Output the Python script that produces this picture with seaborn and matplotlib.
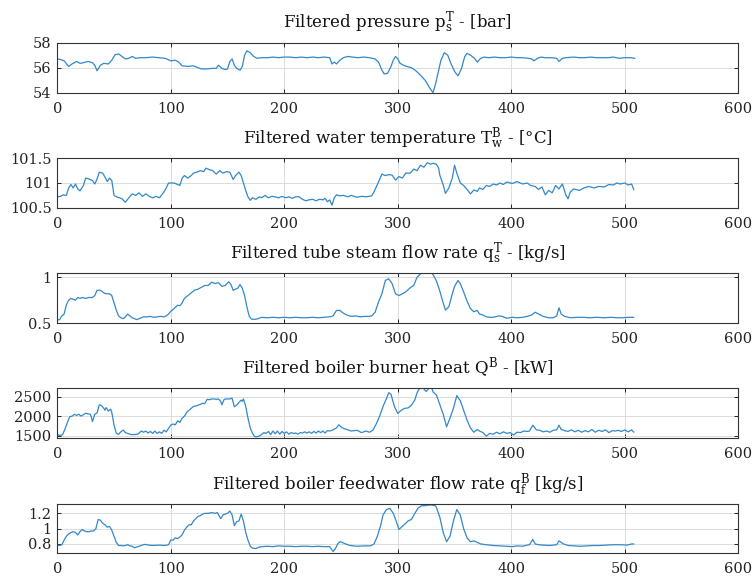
import matplotlib
matplotlib.use("Agg")
import matplotlib.pyplot as plt
from matplotlib.ticker import FuncFormatter
import pandas as pd
import seaborn as sns

# ---- filtered plant signals (sample index, value) ----
pressure_t = [0, 3, 6, 10, 13, 17, 20, 23, 27, 31,
              33, 35, 38, 41, 45, 48, 51, 54, 57, 60,
              63, 66, 69, 73, 78, 84, 90, 95, 100, 104,
              107, 110, 115, 120, 124, 127, 132, 137, 140, 142,
              145, 148, 150, 152, 154, 156, 158, 161, 163, 165,
              167, 170, 173, 176, 180, 185, 190, 195, 200, 205,
              210, 215, 220, 225, 230, 235, 240, 242, 244, 246,
              249, 252, 256, 260, 265, 270, 275, 280, 283, 286,
              288, 291, 294, 296, 298, 300, 302, 305, 308, 312,
              316, 320, 324, 328, 331, 333, 335, 338, 341, 344,
              347, 350, 353, 356, 359, 361, 364, 367, 370, 373,
              376, 380, 385, 390, 395, 400, 405, 410, 415, 418,
              420, 423, 426, 430, 435, 440, 442, 445, 448, 455,
              460, 465, 470, 475, 480, 485, 490, 495, 500, 505,
              509]
pressure_v = [56.7, 56.65, 56.55, 56.1, 56.3, 56.5, 56.35, 56.4, 56.5, 56.4,
              56.2, 55.75, 56.2, 56.35, 56.3, 56.6, 57.05, 57.1, 56.9, 56.7,
              56.75, 56.9, 56.75, 56.8, 56.8, 56.85, 56.8, 56.75, 56.55, 56.6,
              56.45, 56.15, 56.1, 56.15, 56.0, 55.9, 55.9, 55.95, 55.95, 56.2,
              55.95, 55.85, 55.9, 56.5, 56.7, 56.2, 55.95, 55.8, 56.1, 57.0,
              57.35, 57.2, 56.9, 56.75, 56.8, 56.8, 56.85, 56.8, 56.85, 56.85,
              56.8, 56.85, 56.8, 56.85, 56.8, 56.85, 56.8, 56.3, 56.45, 56.3,
              56.6, 56.8, 56.9, 56.85, 56.8, 56.85, 56.8, 56.7, 56.45, 55.8,
              55.5, 55.55, 56.1, 56.6, 56.9, 56.7, 56.35, 56.2, 56.1, 56.0,
              55.75, 55.4, 55.0, 54.4, 54.0, 54.6, 55.4, 56.6, 57.2, 57.0,
              56.3, 55.7, 55.35, 55.9, 56.9, 57.15, 57.0, 56.8, 56.45, 56.75,
              56.85, 56.8, 56.85, 56.8, 56.8, 56.85, 56.8, 56.8, 56.75, 56.7,
              56.55, 56.75, 56.85, 56.8, 56.8, 56.75, 56.5, 56.75, 56.8, 56.85,
              56.8, 56.8, 56.85, 56.8, 56.8, 56.8, 56.85, 56.75, 56.8, 56.8,
              56.75]

temp_t = [0, 3, 5, 8, 10, 12, 14, 16, 18, 20,
          23, 25, 28, 31, 33, 35, 37, 40, 42, 44,
          46, 48, 50, 52, 55, 57, 60, 63, 66, 69,
          72, 75, 78, 81, 84, 87, 90, 92, 94, 96,
          98, 100, 103, 106, 108, 110, 112, 115, 118, 120,
          123, 126, 129, 131, 134, 137, 140, 143, 146, 149,
          152, 155, 157, 160, 162, 164, 166, 168, 170, 172,
          175, 178, 180, 183, 186, 189, 192, 195, 198, 201,
          204, 207, 210, 213, 216, 219, 222, 225, 228, 231,
          234, 236, 238, 240, 242, 244, 246, 249, 252, 256,
          259, 264, 268, 272, 277, 279, 283, 286, 289, 292,
          295, 298, 301, 304, 307, 311, 314, 317, 320, 323,
          326, 329, 331, 334, 336, 337, 340, 342, 345, 348,
          350, 352, 355, 358, 361, 364, 367, 370, 372, 375,
          378, 381, 384, 387, 390, 393, 396, 401, 405, 410,
          414, 417, 421, 424, 427, 430, 433, 436, 439, 442,
          445, 448, 450, 452, 455, 460, 464, 468, 473, 477,
          482, 486, 490, 493, 496, 500, 503, 506, 508]
temp_v = [100.72, 100.73, 100.76, 100.75, 100.9, 100.97, 100.9, 100.98, 100.88, 100.84,
          100.95, 101.1, 101.08, 101.05, 100.98, 101.08, 101.22, 101.2, 101.12, 101.03,
          101.1, 101.05, 100.75, 100.72, 100.7, 100.68, 100.61, 100.7, 100.78, 100.75,
          100.8, 100.73, 100.78, 100.73, 100.7, 100.73, 100.7, 100.76, 100.82, 100.9,
          101.0, 101.0, 101.0, 100.97, 100.95, 101.1, 101.15, 101.1, 101.15, 101.2,
          101.22, 101.25, 101.23, 101.3, 101.27, 101.25, 101.18, 101.25, 101.2, 101.23,
          101.22, 101.07, 101.15, 101.22, 101.15, 101.0, 100.85, 100.72, 100.65, 100.7,
          100.67, 100.72, 100.7, 100.75, 100.7, 100.73, 100.72, 100.7, 100.73, 100.7,
          100.72, 100.69, 100.72, 100.72, 100.67, 100.64, 100.66, 100.67, 100.64, 100.67,
          100.66, 100.69, 100.62, 100.66, 100.55, 100.7, 100.76, 100.74, 100.75, 100.72,
          100.75, 100.71, 100.73, 100.72, 100.74, 100.82, 101.02, 101.18, 101.15, 101.17,
          101.16, 101.06, 101.13, 101.1, 101.2, 101.2, 101.28, 101.25, 101.36, 101.32,
          101.41, 101.38, 101.4, 101.38, 101.3, 101.16, 100.96, 100.79, 100.9, 101.1,
          101.36, 101.2, 101.0, 100.95, 100.87, 100.78, 100.86, 100.83, 100.9, 100.87,
          100.95, 100.93, 100.98, 100.96, 101.0, 100.97, 101.02, 100.99, 101.03, 100.98,
          101.0, 100.95, 100.93, 100.87, 100.92, 100.76, 100.85, 100.8, 100.95, 100.88,
          100.98, 100.76, 100.68, 100.82, 100.88, 100.85, 100.9, 100.93, 100.9, 100.93,
          100.92, 100.97, 100.96, 101.0, 100.98, 101.0, 100.96, 100.98, 100.86]

steam_t = [0, 2, 4, 6, 8, 10, 12, 14, 16, 18,
           20, 22, 25, 28, 31, 33, 35, 37, 39, 41,
           43, 46, 48, 50, 52, 54, 56, 58, 60, 62,
           64, 66, 68, 70, 73, 76, 79, 82, 85, 88,
           91, 94, 96, 98, 100, 103, 106, 108, 110, 112,
           115, 118, 121, 124, 127, 130, 133, 136, 139, 142,
           145, 148, 151, 153, 155, 157, 159, 161, 163, 165,
           167, 169, 171, 174, 177, 180, 185, 190, 195, 200,
           205, 210, 215, 220, 225, 230, 235, 240, 243, 246,
           249, 252, 255, 259, 263, 267, 271, 274, 277, 280,
           283, 286, 289, 292, 295, 298, 301, 304, 307, 311,
           314, 317, 320, 323, 326, 329, 331, 334, 337, 340,
           342, 345, 348, 350, 353, 355, 358, 361, 364, 367,
           370, 372, 375, 378, 381, 384, 389, 392, 396, 401,
           405, 410, 414, 418, 421, 424, 428, 433, 437, 440,
           442, 444, 447, 452, 458, 463, 469, 475, 482, 488,
           493, 499, 503, 508]
steam_v = [0.536, 0.54, 0.58, 0.6, 0.7, 0.75, 0.77, 0.76, 0.75, 0.78,
           0.77, 0.78, 0.77, 0.78, 0.78, 0.8, 0.857, 0.86, 0.85, 0.83,
           0.82, 0.82, 0.8, 0.72, 0.64, 0.58, 0.56, 0.55, 0.57, 0.6,
           0.58, 0.56, 0.55, 0.54, 0.555, 0.57, 0.57, 0.575, 0.565, 0.57,
           0.575, 0.57, 0.58, 0.6, 0.63, 0.66, 0.696, 0.69, 0.72, 0.77,
           0.8, 0.83, 0.86, 0.87, 0.89, 0.91, 0.91, 0.946, 0.93, 0.94,
           0.9, 0.91, 0.95, 0.92, 0.857, 0.87, 0.88, 0.92, 0.88, 0.8,
           0.68, 0.58, 0.545, 0.543, 0.55, 0.565, 0.56, 0.565, 0.56, 0.565,
           0.56, 0.565, 0.56, 0.56, 0.565, 0.56, 0.565, 0.57, 0.58, 0.64,
           0.64, 0.61, 0.59, 0.575, 0.58, 0.57, 0.575, 0.575, 0.58, 0.62,
           0.73, 0.82, 0.964, 0.982, 0.93, 0.82, 0.8, 0.82, 0.84, 0.886,
           0.91, 1.0, 1.036, 1.05, 1.05, 1.05, 1.03, 0.96, 0.85, 0.72,
           0.643, 0.68, 0.82, 0.9, 0.964, 0.93, 0.84, 0.74, 0.66, 0.625,
           0.64, 0.6, 0.59, 0.57, 0.565, 0.565, 0.58, 0.575, 0.555, 0.565,
           0.56, 0.565, 0.575, 0.59, 0.62, 0.6, 0.575, 0.56, 0.56, 0.58,
           0.668, 0.6, 0.575, 0.56, 0.565, 0.565, 0.56, 0.565, 0.56, 0.565,
           0.56, 0.56, 0.565, 0.565]

heat_t = [0, 2, 4, 5, 7, 9, 11, 13, 15, 17,
          19, 21, 23, 25, 27, 29, 30, 31, 33, 35,
          37, 39, 41, 42, 43, 45, 47, 48, 50, 52,
          54, 56, 58, 60, 62, 65, 68, 71, 74, 76,
          78, 80, 82, 84, 86, 88, 90, 92, 94, 96,
          98, 100, 102, 104, 106, 108, 110, 112, 114, 116,
          118, 120, 122, 124, 126, 128, 130, 132, 134, 136,
          138, 140, 142, 144, 145, 147, 149, 152, 154, 156,
          158, 160, 162, 163, 164, 166, 168, 170, 172, 174,
          177, 180, 182, 184, 186, 188, 190, 192, 194, 196,
          198, 200, 202, 204, 206, 208, 210, 212, 214, 216,
          218, 220, 222, 224, 226, 228, 230, 232, 234, 236,
          238, 240, 243, 246, 248, 251, 255, 259, 264, 268,
          272, 275, 278, 281, 284, 287, 290, 292, 294, 297,
          300, 303, 306, 309, 312, 315, 317, 319, 322, 325,
          328, 330, 331, 334, 337, 340, 343, 346, 349, 352,
          355, 358, 361, 364, 367, 370, 372, 375, 378, 381,
          384, 387, 390, 393, 396, 399, 402, 405, 408, 411,
          414, 416, 419, 422, 425, 428, 431, 434, 437, 440,
          442, 444, 447, 450, 453, 456, 459, 462, 465, 468,
          471, 474, 477, 480, 483, 486, 489, 492, 494, 497,
          500, 503, 506, 508]
heat_v = [1534, 1510, 1517, 1550, 1690, 1850, 1987, 2000, 2047, 2020,
          2050, 2000, 2040, 2073, 2060, 2050, 1980, 1860, 2050, 2080,
          2290, 2270, 2200, 2150, 2220, 2130, 2180, 2100, 1770, 1560,
          1534, 1600, 1645, 1580, 1560, 1530, 1530, 1540, 1620, 1590,
          1620, 1570, 1610, 1560, 1620, 1560, 1600, 1560, 1640, 1600,
          1690, 1770, 1800, 1780, 1880, 1840, 1950, 2000, 2100, 2150,
          2200, 2250, 2260, 2280, 2300, 2330, 2320, 2430, 2420, 2440,
          2440, 2430, 2440, 2380, 2290, 2430, 2440, 2440, 2460, 2240,
          2280, 2350, 2410, 2380, 2440, 2250, 1950, 1700, 1560, 1475,
          1480, 1530, 1580, 1560, 1610, 1530, 1620, 1550, 1620, 1540,
          1610, 1560, 1600, 1540, 1580, 1560, 1570, 1540, 1580, 1570,
          1600, 1570, 1600, 1560, 1610, 1570, 1620, 1580, 1620, 1570,
          1630, 1620, 1650, 1700, 1780, 1700, 1660, 1620, 1640, 1580,
          1620, 1590, 1640, 1800, 2000, 2250, 2450, 2600, 2560, 2250,
          2070, 2150, 2200, 2210, 2280, 2415, 2600, 2700, 2730, 2630,
          2730, 2720, 2620, 2540, 2300, 2050, 1730, 1950, 2200, 2525,
          2400, 2150, 1900, 1700, 1590, 1660, 1620, 1580, 1490, 1560,
          1540, 1590, 1550, 1600, 1560, 1580, 1520, 1590, 1580, 1620,
          1610, 1620, 1770, 1650, 1640, 1600, 1620, 1590, 1640, 1650,
          1770, 1660, 1630, 1610, 1650, 1600, 1640, 1590, 1630, 1600,
          1660, 1590, 1640, 1610, 1650, 1580, 1630, 1620, 1640, 1610,
          1650, 1600, 1650, 1590]

feed_t = [0, 2, 4, 6, 8, 10, 12, 14, 16, 18,
          20, 22, 24, 26, 28, 30, 32, 34, 36, 38,
          40, 42, 44, 46, 48, 50, 52, 54, 56, 58,
          60, 62, 64, 66, 68, 70, 72, 74, 76, 78,
          80, 85, 90, 95, 98, 100, 102, 104, 106, 108,
          110, 112, 114, 116, 118, 120, 122, 124, 126, 128,
          130, 133, 136, 139, 141, 144, 146, 148, 150, 152,
          154, 156, 158, 160, 162, 164, 166, 168, 170, 172,
          175, 178, 180, 185, 190, 195, 200, 205, 210, 215,
          220, 225, 230, 235, 240, 243, 245, 247, 249, 251,
          254, 258, 264, 270, 276, 279, 282, 285, 287, 290,
          293, 296, 299, 301, 304, 307, 309, 312, 315, 318,
          321, 324, 329, 333, 334, 337, 340, 343, 346, 349,
          352, 355, 358, 361, 364, 367, 370, 373, 378, 384,
          390, 396, 401, 405, 410, 414, 416, 419, 421, 424,
          428, 434, 440, 442, 446, 450, 455, 461, 466, 472,
          478, 484, 490, 496, 502, 506, 508]
feed_v = [0.787, 0.78, 0.79, 0.85, 0.9, 0.93, 0.95, 0.96, 0.95, 0.917,
          0.96, 0.99, 0.97, 0.96, 0.96, 0.97, 0.97, 1.0, 1.12, 1.11,
          1.07, 1.05, 1.02, 1.03, 0.98, 0.9, 0.82, 0.78, 0.78, 0.775,
          0.78, 0.79, 0.775, 0.77, 0.75, 0.76, 0.77, 0.78, 0.79, 0.795,
          0.785, 0.78, 0.785, 0.78, 0.79, 0.852, 0.85, 0.88, 0.87, 0.89,
          0.92, 0.98, 1.02, 1.05, 1.05, 1.1, 1.13, 1.16, 1.17, 1.19,
          1.2, 1.2, 1.21, 1.2, 1.21, 1.13, 1.18, 1.19, 1.2, 1.23,
          1.18, 1.04, 1.09, 1.1, 1.19, 1.1, 0.95, 0.85, 0.77, 0.745,
          0.74, 0.76, 0.765, 0.77, 0.765, 0.775, 0.77, 0.77, 0.765, 0.77,
          0.77, 0.765, 0.77, 0.765, 0.765, 0.70, 0.74, 0.8, 0.83, 0.82,
          0.8, 0.78, 0.77, 0.775, 0.775, 0.8, 0.9, 1.05, 1.18, 1.25,
          1.265, 1.2, 1.08, 0.99, 1.03, 1.07, 1.1, 1.12, 1.2, 1.27,
          1.3, 1.3, 1.31, 1.3, 1.28, 1.15, 0.95, 0.83, 0.9, 1.1,
          1.25, 1.18, 1.0, 0.88, 0.83, 0.84, 0.82, 0.8, 0.79, 0.78,
          0.775, 0.77, 0.765, 0.775, 0.77, 0.785, 0.79, 0.86, 0.8, 0.79,
          0.785, 0.78, 0.79, 0.84, 0.8, 0.78, 0.775, 0.77, 0.775, 0.78,
          0.78, 0.785, 0.79, 0.79, 0.785, 0.8, 0.8]

titles = [
    r"Filtered pressure $\mathregular{p_{s}^{T}}$ - [bar]",
    r"Filtered water temperature $\mathregular{T_{w}^{B}}$ - [°C]",
    r"Filtered tube steam flow rate $\mathregular{q_{s}^{T}}$ - [kg/s]",
    r"Filtered boiler burner heat $\mathregular{Q^{B}}$ - [kW]",
    r"Filtered boiler feedwater flow rate $\mathregular{q_{f}^{B}}$ [kg/s]",
]
y_limits = [(54, 58), (100.5, 101.5), (0.5, 1.045), (1450, 2712), (0.678, 1.322)]
y_ticks = [[54, 56, 58], [100.5, 101, 101.5], [0.5, 1], [1500, 2000, 2500], [0.8, 1, 1.2]]
x_ticks = [0, 100, 200, 300, 400, 500, 600]

series = [(pressure_t, pressure_v), (temp_t, temp_v), (steam_t, steam_v),
          (heat_t, heat_v), (feed_t, feed_v)]

sns.set_style("ticks")
plt.rcParams["font.family"] = ["DejaVu Serif"]
plt.rcParams["mathtext.fontset"] = "dejavuserif"

W, H = 752, 581
fig = plt.figure(figsize=(W / 100, H / 100), dpi=100)
fig.patch.set_facecolor("white")

# panel frames in pixels: (top, bottom)
frames = [(42.7, 92.7), (158.3, 207.7), (273.0, 323.3), (388.3, 437.7), (504.0, 553.3)]
x_left, x_right = 57.3, 738.3
line_color = "#3388c8"

for (t, v), title, ylim, yt, (top, bot) in zip(series, titles, y_limits, y_ticks, frames):
    assert len(t) == len(v)
    ax = fig.add_axes([x_left / W, 1 - bot / H, (x_right - x_left) / W, (bot - top) / H])
    df = pd.DataFrame({"t": t, "v": v})
    sns.lineplot(data=df, x="t", y="v", ax=ax, color=line_color, linewidth=0.9)
    ax.set_xlim(0, 600)
    ax.set_ylim(*ylim)
    ax.set_xticks(x_ticks)
    ax.set_yticks(yt)
    ax.yaxis.set_major_formatter(FuncFormatter(lambda val, pos: f"{val:g}"))
    ax.set_xlabel("")
    ax.set_ylabel("")
    ax.grid(True, color="#dcdcdc", linewidth=0.7)
    ax.set_axisbelow(True)
    ax.tick_params(direction="in", top=True, right=True, length=3, width=0.7,
                   labelsize=10.5, colors="#222222")
    ax.tick_params(axis="x", pad=6.5)
    ax.tick_params(axis="y", pad=4)
    for s in ax.spines.values():
        s.set_color("#333333")
        s.set_linewidth(0.8)
    fig.text((x_left + x_right) / 2 / W, 1 - (top - 14.5) / H, title,
             ha="center", va="baseline", fontsize=12, color="#111111")

fig.savefig("out.png", dpi=100, facecolor="white")
